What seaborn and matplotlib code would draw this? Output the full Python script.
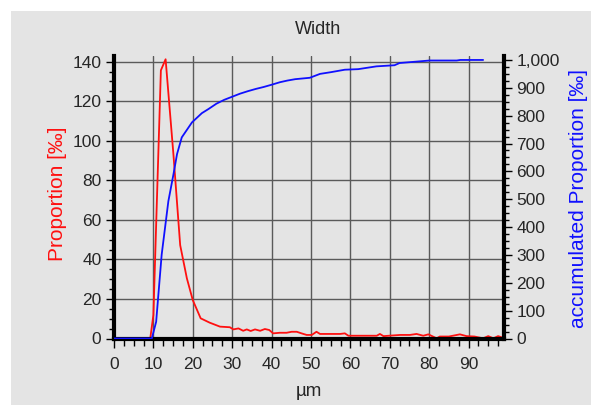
import matplotlib
matplotlib.use("Agg")
import matplotlib.pyplot as plt
import seaborn as sns
import pandas as pd
from matplotlib.patches import Rectangle
from matplotlib.ticker import MultipleLocator, FuncFormatter

# ---- data ----
prop_x = [0, 9.2, 10.0, 11.9, 13.1, 15.1, 16.8, 18.5, 20.0, 22.0, 24.3, 26.9, 29.4,
          30.3, 31.6, 32.8, 33.7, 34.7, 35.8, 37.1, 38.3, 39.4, 40.4, 42.1, 43.8,
          45.1, 46.4, 47.6, 48.9, 50.2, 51.4, 52.3, 54.0, 55.7, 57.4, 58.6, 59.5,
          62.0, 64.5, 66.7, 67.5, 68.4, 72.6, 75.1, 76.8, 78.5, 79.8, 81.9, 82.7,
          85.0, 87.8, 89.5, 91.5, 93.7, 95.0, 96.3, 97.5, 99.2]
prop_y = [0, 0, 11.9, 135.6, 141.2, 92.7, 47.2, 30.4, 19.4, 10.2, 8.0, 6.0, 5.7,
          4.6, 5.1, 3.9, 4.6, 3.8, 4.6, 3.9, 4.8, 4.3, 2.6, 2.9, 2.9,
          3.4, 3.4, 2.6, 1.8, 1.8, 3.4, 2.3, 2.3, 2.3, 2.3, 2.6, 1.4,
          1.4, 1.4, 1.4, 2.3, 1.2, 1.8, 1.8, 2.3, 1.4, 2.1, 0.1, 1.0,
          1.0, 2.1, 1.2, 1.0, 0.1, 1.2, 0.1, 1.2, 0.1]

cum_x = [0, 9.6, 10.7, 12.1, 13.8, 15.1, 16.0, 17.2, 19.8, 22.3, 24.0, 26.0, 28.0,
         30.0, 32.0, 34.0, 36.0, 38.0, 40.0, 42.1, 44.0, 46.0, 49.7, 52.3, 55.0,
         58.6, 62.0, 66.6, 71.2, 72.5, 75.9, 80.1, 87.0, 87.9, 93.7]
cum_y = [0, 0, 60, 301, 493, 590, 662, 722, 776, 809, 824, 843, 857,
         868, 879, 888, 896, 903, 911, 920, 926, 931, 936, 950, 956,
         965, 967, 977, 981, 989, 993, 998, 998, 1000, 1000]

title = "Width"
x_label = "\u00b5m"
left_label = "Proportion [\u2030]"
right_label = "accumulated Proportion [\u2030]"

# ---- style ----
sns.set_style("white")
plt.rcParams["font.family"] = ["Liberation Sans", "DejaVu Sans"]
BG = "#e4e4e4"
FS = 12.5
LFS = 15

W, H = 591, 405
fig = plt.figure(figsize=(W / 100, H / 100), dpi=100)
fig.patch.set_facecolor("white")
fig.patches.append(Rectangle((11 / W, 0), 1 - 11 / W, 1 - 11 / H,
                             transform=fig.transFigure, facecolor=BG,
                             edgecolor="none", zorder=-10))

left, right, top, bottom = 114, 504, 55.5, 338.5
ax = fig.add_axes([left / W, 1 - bottom / H, (right - left) / W, (bottom - top) / H])
ax.set_facecolor(BG)

df1 = pd.DataFrame({"x": prop_x, "y": prop_y})
df2 = pd.DataFrame({"x": cum_x, "y": cum_y})

sns.lineplot(data=df1, x="x", y="y", ax=ax, color="#ff1010", lw=1.3,
             estimator=None, sort=False, zorder=3)
ax.set_xlim(0, 99)
ax.set_ylim(0, 143.1)

ax2 = ax.twinx()
sns.lineplot(data=df2, x="x", y="y", ax=ax2, color="#1010ff", lw=1.3,
             estimator=None, sort=False, zorder=3)
ax2.set_ylim(0, 1016)

# ticks
ax.xaxis.set_major_locator(MultipleLocator(10))
ax.xaxis.set_minor_locator(MultipleLocator(2.5))
ax.yaxis.set_major_locator(MultipleLocator(20))
ax.yaxis.set_minor_locator(MultipleLocator(5))
ax2.yaxis.set_major_locator(MultipleLocator(100))
ax2.yaxis.set_minor_locator(MultipleLocator(25))
ax2.yaxis.set_major_formatter(FuncFormatter(lambda v, p: f"{int(round(v)):,}"))

ax.grid(True, which="major", color="#5a5a5a", lw=1.0, zorder=0)
ax.set_axisbelow(True)

ax.tick_params(axis="x", which="major", direction="out", length=6.5, width=1,
               color="black", labelsize=FS, pad=7, bottom=True)
ax.tick_params(axis="x", which="minor", direction="out", length=5, width=1,
               color="black", bottom=True)
ax.tick_params(axis="y", which="major", direction="out", length=6, width=1,
               color="black", labelsize=FS, pad=3, left=True)
ax.tick_params(axis="y", which="minor", direction="out", length=3.8, width=1,
               color="black", left=True)
ax2.tick_params(axis="y", which="major", direction="out", length=6, width=1,
                color="black", labelsize=FS, pad=3, right=True)
ax2.tick_params(axis="y", which="minor", direction="out", length=3.8, width=1,
                color="black", right=True)

for s in ["left", "bottom"]:
    ax.spines[s].set_linewidth(3)
    ax.spines[s].set_color("black")
    ax.spines[s].set_zorder(5)
ax.spines["top"].set_visible(False)
ax.spines["right"].set_visible(False)
for s in ["left", "bottom", "top"]:
    ax2.spines[s].set_visible(False)
ax2.spines["right"].set_linewidth(3)
ax2.spines["right"].set_color("black")

ax.set_xlabel("")
ax.set_ylabel("")
ax2.set_ylabel("")

fig.text(318 / W, 1 - 30 / H, title, ha="center", va="center", fontsize=13)
fig.text(309 / W, 1 - 392 / H, x_label, ha="center", va="center", fontsize=13.5)
fig.text(58 / W, 1 - 194 / H, left_label, ha="center", va="center",
         rotation=90, fontsize=LFS, color="#ff1010")
fig.text(578 / W, 1 - 198 / H, right_label, ha="center", va="center",
         rotation=90, fontsize=LFS, color="#1010ff")

fig.savefig("out.png", dpi=100, facecolor=fig.get_facecolor())
